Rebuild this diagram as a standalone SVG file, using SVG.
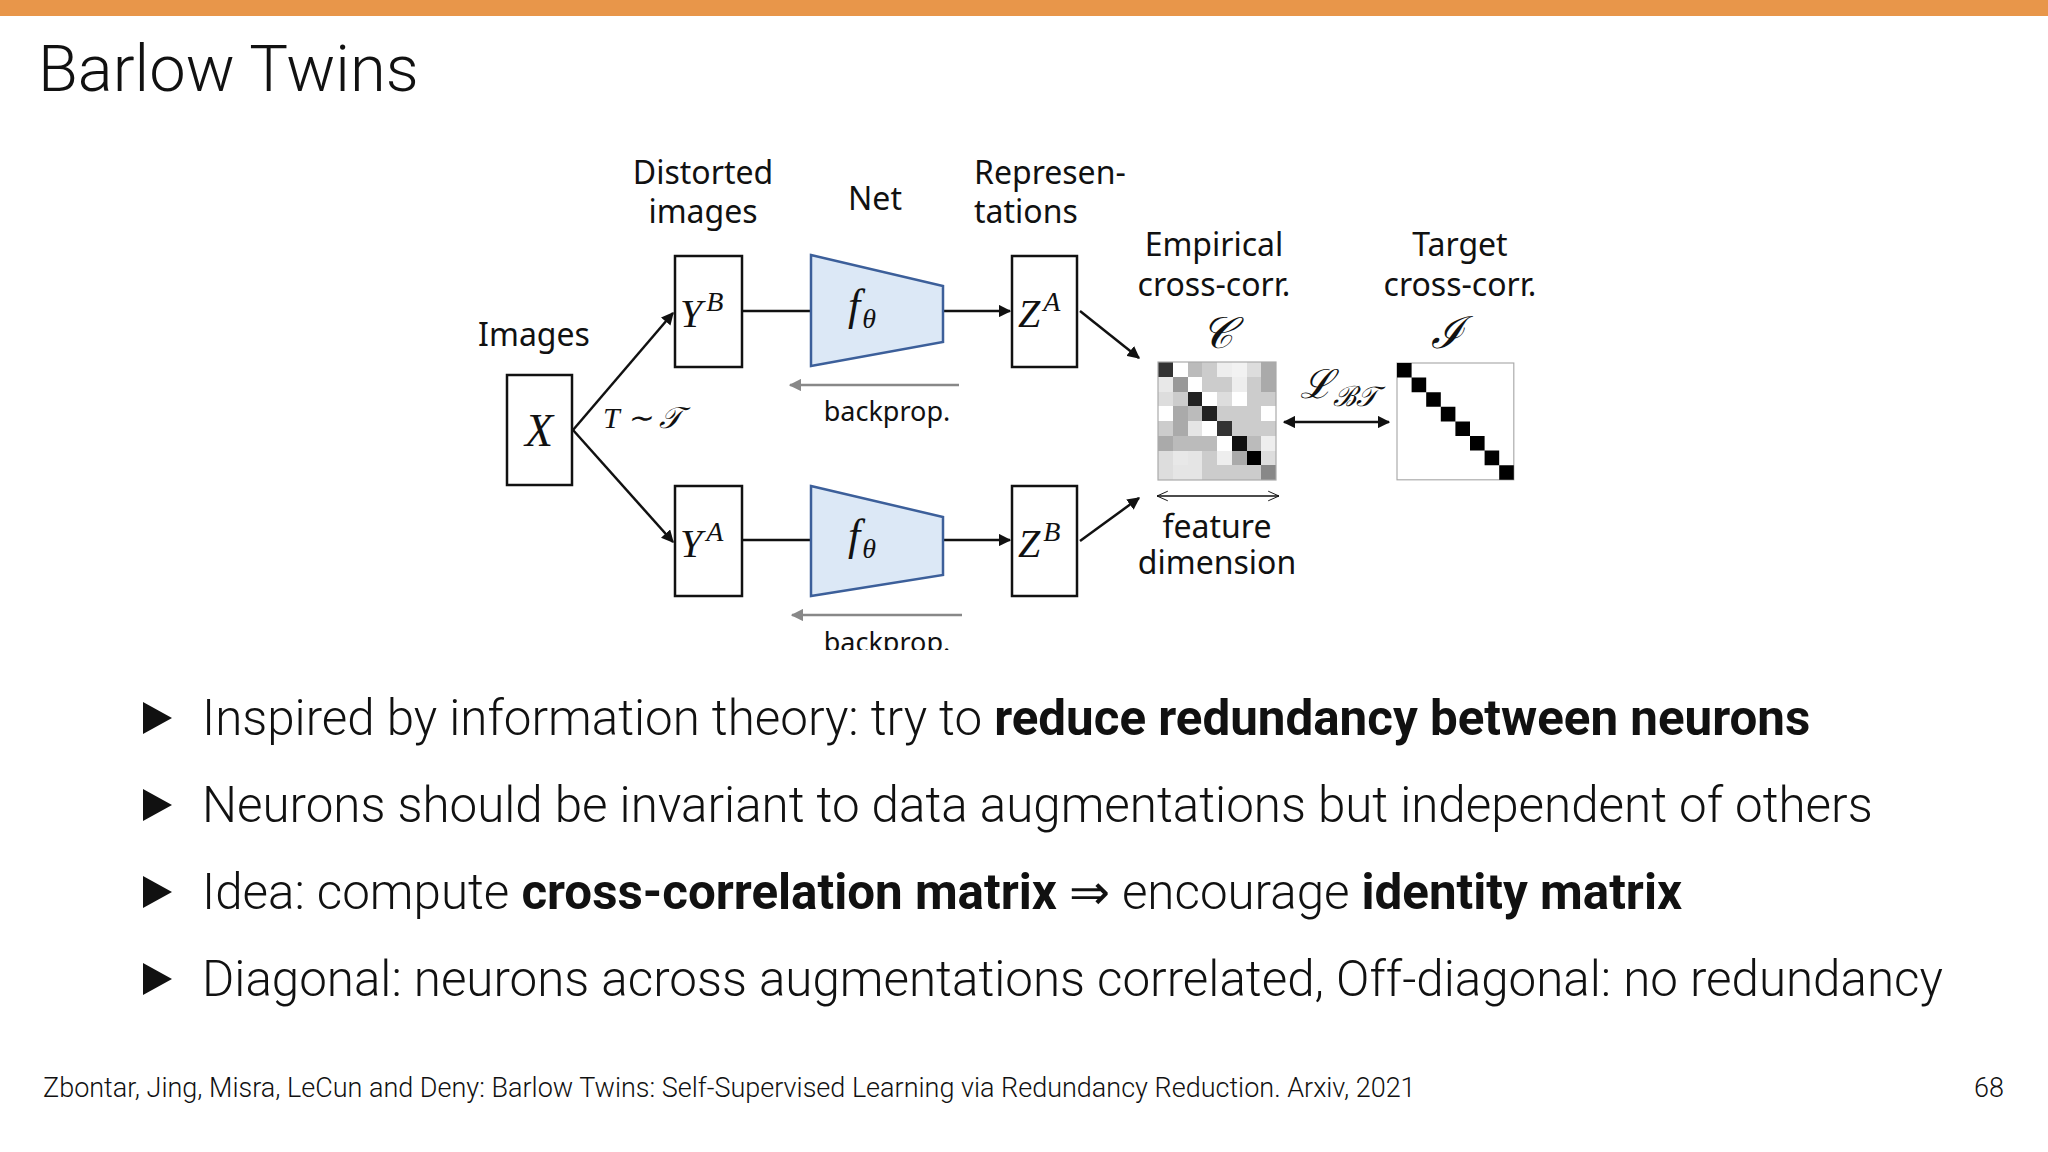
<svg xmlns="http://www.w3.org/2000/svg" width="2048" height="1152" viewBox="0 0 2048 1152">
<style>
.s{font-family:"Noto Sans","Open Sans",sans-serif;font-size:32px;fill:#111}
.s2{font-family:"Noto Sans","Open Sans",sans-serif;font-size:27px;fill:#111}
.m{font-family:"Liberation Serif",serif;font-style:italic;fill:#111}
.bx{fill:#fff;stroke:#111;stroke-width:2.5}
.tr{fill:#dce8f6;stroke:#3c5f9a;stroke-width:2.5}
.ln{stroke:#111;stroke-width:2.5;fill:none}
.bp{stroke:#888;stroke-width:2.5;fill:none}
.b{font-family:Roboto,sans-serif;font-weight:300;font-size:49.3px;fill:#111}
.b tspan.k{font-weight:700}
</style>
<defs>
<marker id="ah" viewBox="0 0 10 10" refX="9" refY="5" markerWidth="5" markerHeight="5" orient="auto-start-reverse"><path d="M0,0L10,5L0,10z" fill="#111"/></marker>
<marker id="ag" viewBox="0 0 10 10" refX="9" refY="5" markerWidth="5" markerHeight="5" orient="auto-start-reverse"><path d="M0,0L10,5L0,10z" fill="#888"/></marker>
<marker id="ao" viewBox="0 0 10 10" refX="9" refY="5" markerWidth="8" markerHeight="8" orient="auto-start-reverse"><path d="M0,1L9,5L0,9" fill="none" stroke="#111" stroke-width="0.8"/></marker>
<clipPath id="cl"><rect x="0" y="0" width="2048" height="650"/></clipPath>
</defs>
<rect width="2048" height="1152" fill="#fff"/>
<rect width="2048" height="16" fill="#e8964a"/>
<text x="38" y="91" font-family="Roboto,sans-serif" font-weight="300" font-size="65" fill="#111">Barlow Twins</text>

<g id="labels">
<text class="s" x="534" y="346" text-anchor="middle">Images</text>
<text class="s" x="703" y="184" text-anchor="middle">Distorted</text>
<text class="s" x="703" y="223" text-anchor="middle">images</text>
<text class="s" x="875" y="210" text-anchor="middle">Net</text>
<text class="s" x="974" y="184">Represen-</text>
<text class="s" x="974" y="223">tations</text>
<text class="s" x="1214" y="256" text-anchor="middle">Empirical</text>
<text class="s" x="1214" y="296" text-anchor="middle">cross-corr.</text>
<text class="s" x="1460" y="256" text-anchor="middle">Target</text>
<text class="s" x="1460" y="296" text-anchor="middle">cross-corr.</text>
<text class="s" x="1217" y="538" text-anchor="middle">feature</text>
<text class="s" x="1217" y="574" text-anchor="middle">dimension</text>
<text class="m" x="1217" y="348" font-size="44" text-anchor="middle">𝒞</text>
<text class="m" x="1447" y="348" font-size="44" text-anchor="middle">ℐ</text>
<text class="m" x="1300" y="398" font-size="40">ℒ<tspan font-size="28" dy="8">ℬ𝒯</tspan></text>
<text class="m" x="603" y="428" font-size="30">T ∼ 𝒯</text>
</g>

<g id="connectors">
<line class="ln" x1="573" y1="430" x2="673" y2="313" marker-end="url(#ah)"/>
<line class="ln" x1="573" y1="430" x2="673" y2="542" marker-end="url(#ah)"/>
<line class="ln" x1="742" y1="311" x2="811" y2="311"/>
<line class="ln" x1="742" y1="540" x2="811" y2="540"/>
<line class="ln" x1="943" y1="311" x2="1010" y2="311" marker-end="url(#ah)"/>
<line class="ln" x1="943" y1="540" x2="1010" y2="540" marker-end="url(#ah)"/>
<line class="ln" x1="1080" y1="311" x2="1139" y2="358" marker-end="url(#ah)"/>
<line class="ln" x1="1080" y1="541" x2="1139" y2="498" marker-end="url(#ah)"/>
<line class="ln" x1="1284" y1="422" x2="1389" y2="422" marker-start="url(#ah)" marker-end="url(#ah)"/>
<line x1="1157" y1="496" x2="1279" y2="496" stroke="#111" stroke-width="1.5" marker-start="url(#ao)" marker-end="url(#ao)"/>
<line class="bp" x1="959" y1="385" x2="790" y2="385" marker-end="url(#ag)"/>
<line class="bp" x1="962" y1="615" x2="792" y2="615" marker-end="url(#ag)"/>
<text class="s2" x="887" y="421" text-anchor="middle">backprop.</text>
<text class="s2" x="887" y="652" text-anchor="middle" clip-path="url(#cl)">backprop.</text>
</g>

<g id="nodeX"><rect class="bx" x="507" y="375" width="65" height="110"/><text class="m" x="539" y="446" font-size="46" text-anchor="middle">X</text></g>
<g id="nodeYB"><rect class="bx" x="675" y="256" width="67" height="111"/><text class="m" x="680" y="327" font-size="40">Y<tspan font-size="28" dx="4" dy="-16">B</tspan></text></g>
<g id="nodeYA"><rect class="bx" x="675" y="486" width="67" height="110"/><text class="m" x="680" y="557" font-size="40">Y<tspan font-size="28" dx="4" dy="-16">A</tspan></text></g>
<g id="netTop"><polygon class="tr" points="811,255 943,286 943,342 811,366"/><text class="m" x="848" y="320" font-size="44">f<tspan font-size="28" dx="2" dy="8">θ</tspan></text></g>
<g id="netBot"><polygon class="tr" points="811,486 943,517 943,575 811,596"/><text class="m" x="848" y="550" font-size="44">f<tspan font-size="28" dx="2" dy="8">θ</tspan></text></g>
<g id="nodeZA"><rect class="bx" x="1012" y="256" width="65" height="111"/><text class="m" x="1018" y="327" font-size="40">Z<tspan font-size="28" dx="3" dy="-16">A</tspan></text></g>
<g id="nodeZB"><rect class="bx" x="1012" y="486" width="65" height="110"/><text class="m" x="1018" y="557" font-size="40">Z<tspan font-size="28" dx="3" dy="-16">B</tspan></text></g>

<g id="matrixC" transform="translate(1158,362) scale(14.75)">
<g shape-rendering="crispEdges">
<rect x="0" y="0" width="1" height="1" fill="#333"/><rect x="1" y="0" width="1" height="1" fill="#fff"/><rect x="2" y="0" width="1" height="1" fill="#bbb"/><rect x="3" y="0" width="1" height="1" fill="#ccc"/><rect x="4" y="0" width="1" height="1" fill="#eee"/><rect x="5" y="0" width="1" height="1" fill="#f2f2f2"/><rect x="6" y="0" width="1" height="1" fill="#ddd"/><rect x="7" y="0" width="1" height="1" fill="#aaa"/>
<rect x="0" y="1" width="1" height="1" fill="#e8e8e8"/><rect x="1" y="1" width="1" height="1" fill="#999"/><rect x="2" y="1" width="1" height="1" fill="#fff"/><rect x="3" y="1" width="1" height="1" fill="#ccc"/><rect x="4" y="1" width="1" height="1" fill="#ccc"/><rect x="5" y="1" width="1" height="1" fill="#eee"/><rect x="6" y="1" width="1" height="1" fill="#ccc"/><rect x="7" y="1" width="1" height="1" fill="#aaa"/>
<rect x="0" y="2" width="1" height="1" fill="#ddd"/><rect x="1" y="2" width="1" height="1" fill="#ccc"/><rect x="2" y="2" width="1" height="1" fill="#222"/><rect x="3" y="2" width="1" height="1" fill="#fff"/><rect x="4" y="2" width="1" height="1" fill="#ddd"/><rect x="5" y="2" width="1" height="1" fill="#fff"/><rect x="6" y="2" width="1" height="1" fill="#ccc"/><rect x="7" y="2" width="1" height="1" fill="#ccc"/>
<rect x="0" y="3" width="1" height="1" fill="#fff"/><rect x="1" y="3" width="1" height="1" fill="#aaa"/><rect x="2" y="3" width="1" height="1" fill="#bbb"/><rect x="3" y="3" width="1" height="1" fill="#222"/><rect x="4" y="3" width="1" height="1" fill="#ccc"/><rect x="5" y="3" width="1" height="1" fill="#ccc"/><rect x="6" y="3" width="1" height="1" fill="#ccc"/><rect x="7" y="3" width="1" height="1" fill="#fff"/>
<rect x="0" y="4" width="1" height="1" fill="#ccc"/><rect x="1" y="4" width="1" height="1" fill="#aaa"/><rect x="2" y="4" width="1" height="1" fill="#e5e5e5"/><rect x="3" y="4" width="1" height="1" fill="#fff"/><rect x="4" y="4" width="1" height="1" fill="#333"/><rect x="5" y="4" width="1" height="1" fill="#ccc"/><rect x="6" y="4" width="1" height="1" fill="#ccc"/><rect x="7" y="4" width="1" height="1" fill="#ccc"/>
<rect x="0" y="5" width="1" height="1" fill="#aaa"/><rect x="1" y="5" width="1" height="1" fill="#bbb"/><rect x="2" y="5" width="1" height="1" fill="#bbb"/><rect x="3" y="5" width="1" height="1" fill="#bbb"/><rect x="4" y="5" width="1" height="1" fill="#fff"/><rect x="5" y="5" width="1" height="1" fill="#111"/><rect x="6" y="5" width="1" height="1" fill="#bbb"/><rect x="7" y="5" width="1" height="1" fill="#eee"/>
<rect x="0" y="6" width="1" height="1" fill="#ddd"/><rect x="1" y="6" width="1" height="1" fill="#e8e8e8"/><rect x="2" y="6" width="1" height="1" fill="#e5e5e5"/><rect x="3" y="6" width="1" height="1" fill="#ccc"/><rect x="4" y="6" width="1" height="1" fill="#eee"/><rect x="5" y="6" width="1" height="1" fill="#aaa"/><rect x="6" y="6" width="1" height="1" fill="#000"/><rect x="7" y="6" width="1" height="1" fill="#ddd"/>
<rect x="0" y="7" width="1" height="1" fill="#ddd"/><rect x="1" y="7" width="1" height="1" fill="#e5e5e5"/><rect x="2" y="7" width="1" height="1" fill="#e5e5e5"/><rect x="3" y="7" width="1" height="1" fill="#ccc"/><rect x="4" y="7" width="1" height="1" fill="#ccc"/><rect x="5" y="7" width="1" height="1" fill="#ccc"/><rect x="6" y="7" width="1" height="1" fill="#ccc"/><rect x="7" y="7" width="1" height="1" fill="#888"/>
</g>
<rect x="0" y="0" width="8" height="8" fill="none" stroke="#aaa" stroke-width="0.08"/>
</g>

<g id="matrixI" transform="translate(1397,363) scale(14.6)">
<rect x="0" y="0" width="8" height="8" fill="#fff" stroke="#aaa" stroke-width="0.08"/>
<path d="M0,0h1v1h-1zM1,1h1v1h-1zM2,2h1v1h-1zM3,3h1v1h-1zM4,4h1v1h-1zM5,5h1v1h-1zM6,6h1v1h-1zM7,7h1v1h-1z" fill="#000"/>
</g>

<g id="bullets">
<path d="M143,702L172,718L143,734z M143,789L172,805L143,821z M143,876L172,892L143,908z M143,963L172,979L143,995z" fill="#111"/>
<text class="b" x="202" y="735">Inspired by information theory: try to <tspan class="k">reduce redundancy between neurons</tspan></text>
<text class="b" x="202" y="822">Neurons should be invariant to data augmentations but independent of others</text>
<text class="b" x="202" y="909">Idea: compute <tspan class="k">cross-correlation matrix</tspan> ⇒ encourage <tspan class="k">identity matrix</tspan></text>
<text class="b" x="202" y="996">Diagonal: neurons across augmentations correlated, Off-diagonal: no redundancy</text>
</g>

<text x="43" y="1097" font-family="Roboto,sans-serif" font-weight="300" font-size="27" fill="#111">Zbontar, Jing, Misra, LeCun and Deny: Barlow Twins: Self-Supervised Learning via Redundancy Reduction. Arxiv, 2021</text>
<text x="2004" y="1097" font-family="Roboto,sans-serif" font-weight="300" font-size="27" fill="#111" text-anchor="end">68</text>
</svg>
